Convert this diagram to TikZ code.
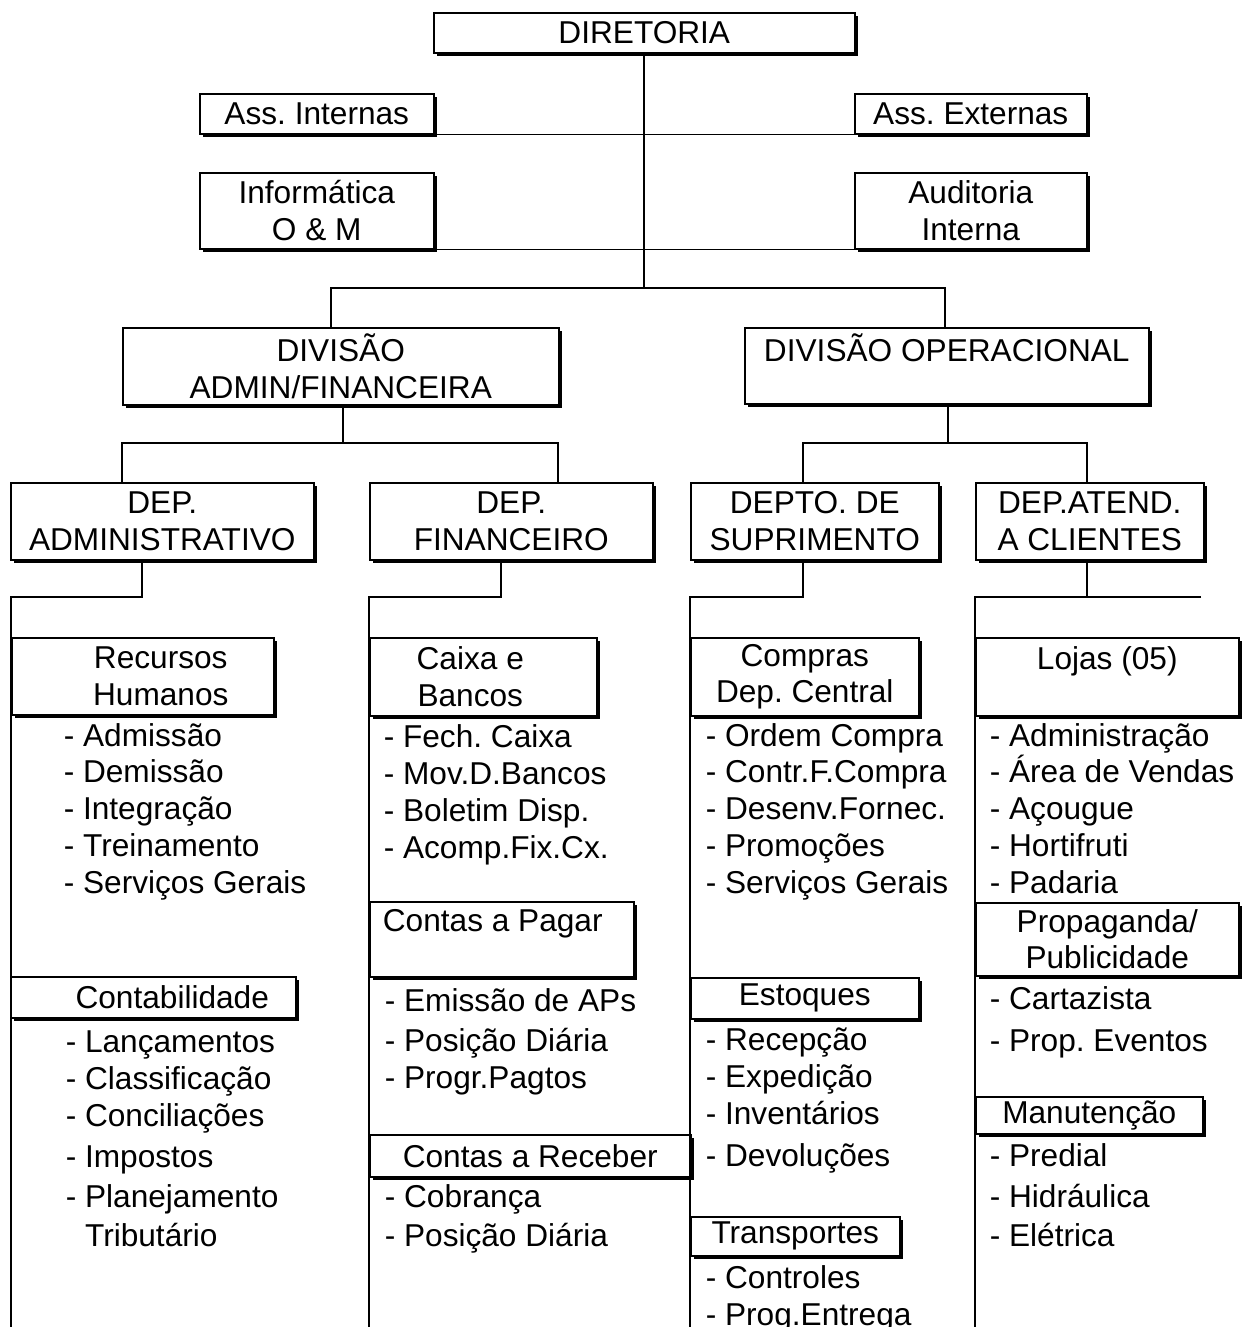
\documentclass[tikz,border=0pt]{standalone}
\usepackage{fontspec}
\setmainfont{Liberation Sans}
\usetikzlibrary{shadows}
\frenchspacing

\begin{document}
\begin{tikzpicture}[x=0.02cm, y=-0.02cm, line width=0.9pt,
        every node/.style={font=\fontsize{18pt}{20.9pt}\selectfont, inner sep=0pt},
        unitbox/.style={draw, fill=white, align=center, anchor=north west,
            drop shadow={shadow xshift=2pt, shadow yshift=-2pt, opacity=1, fill=black}},
        tasks/.style={align=left, anchor=base west}]
    \useasboundingbox (0,0) rectangle (1241,1327);

    % direction and staff units
    \node[unitbox, minimum width=8.42cm, minimum height=0.80cm] (dir) at (433,12) {DIRETORIA};
    \node[unitbox, minimum width=4.68cm, minimum height=0.80cm] (ai) at (199,93) {Ass. Internas};
    \node[unitbox, minimum width=4.64cm, minimum height=0.80cm] (ae) at (854,93) {Ass. Externas};
    \node[unitbox, minimum width=4.68cm, minimum height=1.52cm] (inf) at (199,172) {Informática\\O \& M};
    \node[unitbox, minimum width=4.64cm, minimum height=1.52cm] (aud) at (854,172) {Auditoria\\Interna};

    % divisions and departments
    \node[unitbox, minimum width=8.72cm, minimum height=1.54cm] (daf) at (122,327) {DIVISÃO\\ADMIN/FINANCEIRA};
    \node[unitbox, minimum width=8.08cm, minimum height=1.52cm] (dop) at (744,327) {DIVISÃO OPERACIONAL\\\mbox{}};
    \node[unitbox, minimum width=6.06cm, minimum height=1.54cm] (dadm) at (10,482) {DEP.\\ADMINISTRATIVO};
    \node[unitbox, minimum width=5.66cm, minimum height=1.54cm] (dfin) at (369,482) {DEP.\\FINANCEIRO};
    \node[unitbox, minimum width=4.96cm, minimum height=1.54cm] (dsup) at (690,482) {DEPTO. DE\\SUPRIMENTO};
    \node[unitbox, minimum width=4.56cm, minimum height=1.54cm] (dcli) at (975,482) {DEP.ATEND.\\A CLIENTES};

    % sections
    \node[unitbox, minimum width=5.24cm, minimum height=1.54cm] (rh) at (11,637) {\kern.72cm Recursos\\\kern.72cm Humanos};
    \node[unitbox, minimum width=4.54cm, minimum height=1.56cm] (cxb) at (369,637) {Caixa e\kern.52cm\\Bancos\kern.52cm};
    \node[unitbox, minimum width=4.56cm, minimum height=1.56cm] (cpr) at (690,637) {Compras\\Dep. Central};
    \node[unitbox, minimum width=5.26cm, minimum height=1.56cm] (loj) at (975,637) {Lojas (05)\\\mbox{}};
    \node[unitbox, minimum width=5.28cm, minimum height=1.50cm] (cpg) at (369,901) {Contas a Pagar\kern.36cm\\\mbox{}};
    \node[unitbox, minimum width=5.26cm, minimum height=1.46cm] (prop) at (975,902) {Propaganda/\\Publicidade};
    \node[unitbox, minimum width=5.70cm, minimum height=0.82cm] (cont) at (10,976) {\kern.76cm Contabilidade};
    \node[unitbox, minimum width=4.56cm, minimum height=0.82cm] (est) at (690,977) {Estoques};
    \node[unitbox, minimum width=6.42cm, minimum height=0.84cm] (crc) at (369,1134) {Contas a Receber};
    \node[unitbox, minimum width=4.54cm, minimum height=0.74cm] (man) at (975,1096) {Manutenção};
    \node[unitbox, minimum width=4.18cm, minimum height=0.78cm] (trp) at (690,1216) {Transportes};

    % task lists (placed by the baseline of their last line)
    \node[tasks] (lrh) at (63,893) {- Admissão\\- Demissão\\- Integração\\- Treinamento\\- Serviços Gerais};
    \node[tasks] (lcxb) at (383,858) {- Fech. Caixa\\- Mov.D.Bancos\\- Boletim Disp.\\- Acomp.Fix.Cx.};
    \node[tasks] (lcpr) at (705,893) {- Ordem Compra\\- Contr.F.Compra\\- Desenv.Fornec.\\- Promoções\\- Serviços Gerais};
    \node[tasks] (lloj) at (989,893) {- Administração\\- Área de Vendas\\- Açougue\\- Hortifruti\\- Padaria};
    \node[tasks] (lcont) at (65,1246) {- Lançamentos\\- Classificação\\- Conciliações\\[2.8pt]- Impostos\\[1.9pt]- Planejamento\\[0.9pt]\hphantom{- }Tributário};
    \node[tasks] (lcpg) at (384,1088) {- Emissão de APs\\[1.9pt]- Posição Diária\\- Progr.Pagtos};
    \node[tasks] (lcrc) at (384,1246) {- Cobrança\\[0.9pt]- Posição Diária};
    \node[tasks] (lest) at (705,1166) {- Recepção\\- Expedição\\- Inventários\\[3pt]- Devoluções};
    \node[tasks] (ltrp) at (705,1325) {- Controles\\- Prog.Entrega};
    \node[tasks] (lprop) at (989,1051) {- Cartazista\\[3pt]- Prop. Eventos};
    \node[tasks] (lman) at (989,1246) {- Predial\\[2.8pt]- Hidráulica\\[0.9pt]- Elétrica};

    % connectors
    \coordinate (b0) at (644,288);
    \coordinate (b1) at (331,288);
    \coordinate (b2) at (945,288);
    \coordinate (b3) at (343,443);
    \coordinate (b3l) at (122,443);
    \coordinate (b3r) at (558,443);
    \coordinate (b4) at (948,443);
    \coordinate (b4l) at (803,443);
    \coordinate (b4r) at (1087,443);
    \coordinate (c1) at (142,597);
    \coordinate (c2) at (501,597);
    \coordinate (c3) at (803,597);
    \coordinate (c4) at (1087,597);
    \coordinate (c4r) at (1201,597);
    \coordinate (foot) at (0,1327);

    \draw (dir.south -| b0) -- (b0);
    \draw (ai.south east) -- (ae.south west);
    \draw (inf.south east) -- (aud.south west);
    \draw (daf.north -| b1) |- (b0) -| (dop.north -| b2);
    \draw (daf.south -| b3) -- (b3);
    \draw (dadm.north -| b3l) |- (b3r) -- (dfin.north -| b3r);
    \draw (dop.south -| b4) -- (b4);
    \draw (dsup.north -| b4l) |- (b4r) -- (dcli.north -| b4r);

    \draw (dadm.south -| c1) -- (c1) -| (rh.north west);
    \draw (rh.north west) -- (rh.north west |- foot);
    \draw[line width=1.7pt] (rh.south west) -- (rh.south west |- cont.south);
    \draw (dfin.south -| c2) -- (c2) -| (cxb.north west);
    \draw (cxb.north west) -- (cxb.north west |- foot);
    \draw (dsup.south -| c3) -- (c3) -| (cpr.north west);
    \draw (cpr.north west) -- (cpr.north west |- foot);
    \draw (dcli.south -| c4) -- (c4);
    \draw (c4r) -| (loj.north west);
    \draw (loj.north west) -- (loj.north west |- foot);
\end{tikzpicture}
\end{document}
